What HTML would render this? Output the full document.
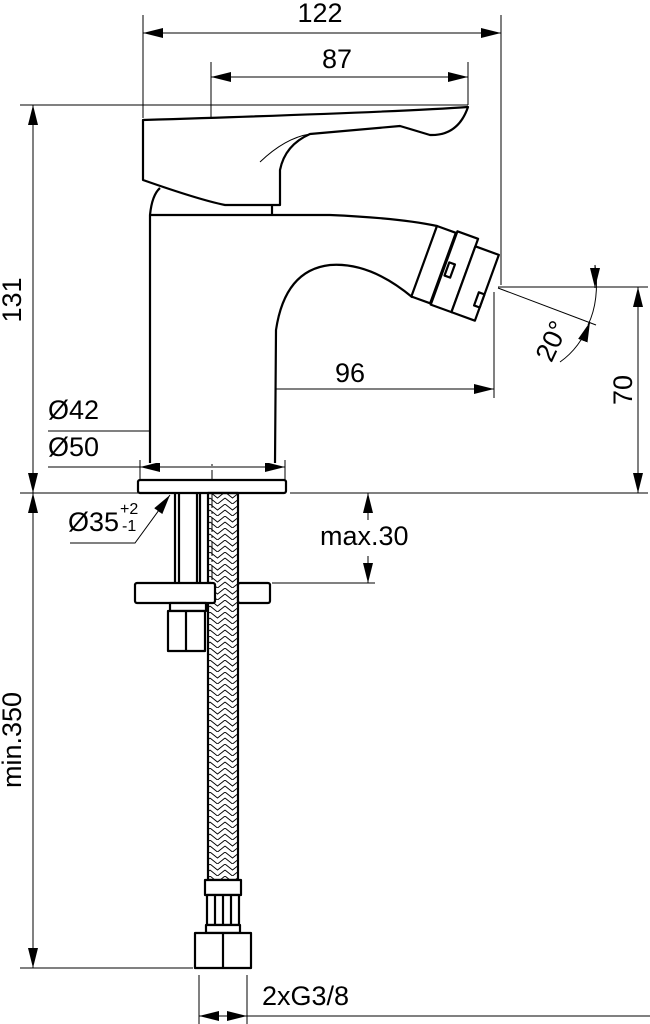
<!DOCTYPE html>
<html><head><meta charset="utf-8"><style>
html,body{margin:0;padding:0;background:#fff}
svg{display:block}
text{font-family:"Liberation Sans",sans-serif;font-size:27px;fill:#000}
</style></head><body>
<svg width="650" height="1024" viewBox="0 0 650 1024" xmlns="http://www.w3.org/2000/svg">
<defs>
<marker id="a" viewBox="0 0 20 10" refX="20" refY="5" markerWidth="20" markerHeight="10" markerUnits="userSpaceOnUse" orient="auto"><path d="M0,0 L20,5 L0,10 z" fill="#000"/></marker>
<pattern id="br" width="15" height="12" patternUnits="userSpaceOnUse"><path d="M0,0 L7.5,6 L15,0 M0,6 L7.5,12 L15,6" stroke="#000" stroke-width="0.9" fill="none"/></pattern>
</defs>
<g stroke="#000" stroke-width="1" fill="none">
<line x1="143" y1="15" x2="143" y2="118"/><line x1="501" y1="15" x2="501" y2="285"/>
<line x1="165" y1="33" x2="143" y2="33" marker-end="url(#a)"/><line x1="165" y1="33" x2="501" y2="33" marker-end="url(#a)"/>
<line x1="211" y1="62" x2="211" y2="122"/><line x1="468" y1="62" x2="468" y2="105"/>
<line x1="300" y1="77" x2="211" y2="77" marker-end="url(#a)"/><line x1="300" y1="77" x2="468" y2="77" marker-end="url(#a)"/>
<line x1="20" y1="105" x2="468" y2="105"/>
<line x1="33" y1="300" x2="33" y2="105" marker-end="url(#a)"/><line x1="33" y1="300" x2="33" y2="493" marker-end="url(#a)"/>
<line x1="20" y1="493" x2="138" y2="493"/><line x1="290" y1="493" x2="648" y2="493"/>
<line x1="498" y1="287" x2="648" y2="287"/>
<line x1="638" y1="390" x2="638" y2="287" marker-end="url(#a)"/><line x1="638" y1="390" x2="638" y2="493" marker-end="url(#a)"/>
<line x1="494" y1="292" x2="494" y2="398"/><line x1="211" y1="380" x2="211" y2="398"/>
<line x1="300" y1="389" x2="211" y2="389" marker-end="url(#a)"/><line x1="300" y1="389" x2="494" y2="389" marker-end="url(#a)"/>
<line x1="212" y1="398" x2="212" y2="600" stroke-dasharray="14,4,2,4"/>
<line x1="48" y1="431" x2="150" y2="431"/>
<line x1="212" y1="431" x2="150" y2="431" marker-end="url(#a)"/><line x1="212" y1="431" x2="273" y2="431" marker-end="url(#a)"/>
<line x1="48" y1="467" x2="140" y2="467"/>
<line x1="140" y1="460" x2="140" y2="480"/><line x1="285" y1="460" x2="285" y2="480"/>
<line x1="212" y1="467" x2="140" y2="467" marker-end="url(#a)"/><line x1="212" y1="467" x2="285" y2="467" marker-end="url(#a)"/>
<line x1="272" y1="583" x2="375" y2="583"/>
<line x1="368" y1="520" x2="368" y2="493" marker-end="url(#a)"/><line x1="368" y1="556" x2="368" y2="583" marker-end="url(#a)"/>
<polyline points="70,543 135,543 170,495" marker-end="url(#a)"/>
<line x1="20" y1="968" x2="193" y2="968"/>
<line x1="33" y1="740" x2="33" y2="493" marker-end="url(#a)"/><line x1="33" y1="740" x2="33" y2="968" marker-end="url(#a)"/>
<line x1="199" y1="975" x2="199" y2="1024"/><line x1="247" y1="975" x2="247" y2="1024"/>
<line x1="223" y1="1016" x2="199" y2="1016" marker-end="url(#a)"/><line x1="223" y1="1016" x2="247" y2="1016" marker-end="url(#a)"/>
<line x1="247" y1="1016" x2="650" y2="1016"/>
<line x1="498" y1="288" x2="596" y2="325"/>
<path d="M595,265 Q600,300 588,325"/>
<line x1="595" y1="265" x2="595" y2="288" marker-end="url(#a)"/>
<path d="M560,362 Q580,348 590,322" marker-end="url(#a)"/>
</g>
<g stroke="#000" stroke-width="2.2" fill="#fff" stroke-linejoin="round">
<path d="M150,463 L150,215 L330,215 Q400,218 437,226 L412,297 Q370,262 330,265 Q285,270 276,330 L275,463"/>
<path d="M150,215 Q152,195 160,188" fill="none"/>
<line x1="272" y1="205" x2="272" y2="215"/>
<g transform="translate(437,226) rotate(20)">
<rect x="0" y="0" width="20" height="75"/>
<rect x="21" y="-2" width="22" height="78"/>
<rect x="43" y="6" width="25" height="70"/>
<rect x="24" y="30" width="6" height="14"/><rect x="62" y="48" width="6" height="14"/>
</g>
<path d="M143,120 L143,180 Q200,200 225,205 L280,205 L280,170 Q285,145 310,134 L400,126 Q420,132 430,135 Q458,136 468,107 Q400,112 143,120 Z"/>
<path d="M260,162 Q285,138 310,134" fill="none" stroke-width="1"/>
<rect x="138" y="480" width="148" height="13" rx="2"/>
<line x1="175" y1="493" x2="175" y2="583"/><line x1="179" y1="493" x2="179" y2="583"/>
<line x1="197" y1="493" x2="197" y2="583"/><line x1="200" y1="493" x2="200" y2="583"/>
<rect x="208" y="493" width="30" height="387" fill="url(#br)"/>
<rect x="135" y="583" width="80" height="20" rx="2"/>
<rect x="238" y="583" width="32" height="20" rx="2"/>
<rect x="170" y="603" width="36" height="8"/>
<rect x="168" y="611" width="37" height="40"/>
<line x1="186" y1="611" x2="186" y2="651"/>
<rect x="205" y="880" width="36" height="15"/>
<rect x="207" y="895" width="32" height="30"/>
<line x1="215" y1="895" x2="215" y2="925"/><line x1="223" y1="895" x2="223" y2="925"/><line x1="231" y1="895" x2="231" y2="925"/>
<rect x="206" y="925" width="34" height="8"/>
<rect x="195" y="933" width="56" height="35"/>
<line x1="223" y1="933" x2="223" y2="968"/>
</g>
<text x="320" y="22" text-anchor="middle">122</text>
<text x="337" y="68" text-anchor="middle">87</text>
<text x="350" y="382" text-anchor="middle">96</text>
<text x="48" y="419">Ø42</text>
<text x="48" y="456">Ø50</text>
<text x="68" y="531">Ø35</text>
<text x="120" y="514" style="font-size:16px">+2</text>
<text x="122" y="531" style="font-size:16px">-1</text>
<text x="320" y="545">max.30</text>
<text x="262" y="1005">2xG3/8</text>
<text transform="translate(21,300) rotate(-90)" text-anchor="middle">131</text>
<text transform="translate(21,740) rotate(-90)" text-anchor="middle">min.350</text>
<text transform="translate(632,390) rotate(-90)" text-anchor="middle">70</text>
<text transform="translate(560,345) rotate(-65)" text-anchor="middle">20°</text>
</svg>
</body></html>
